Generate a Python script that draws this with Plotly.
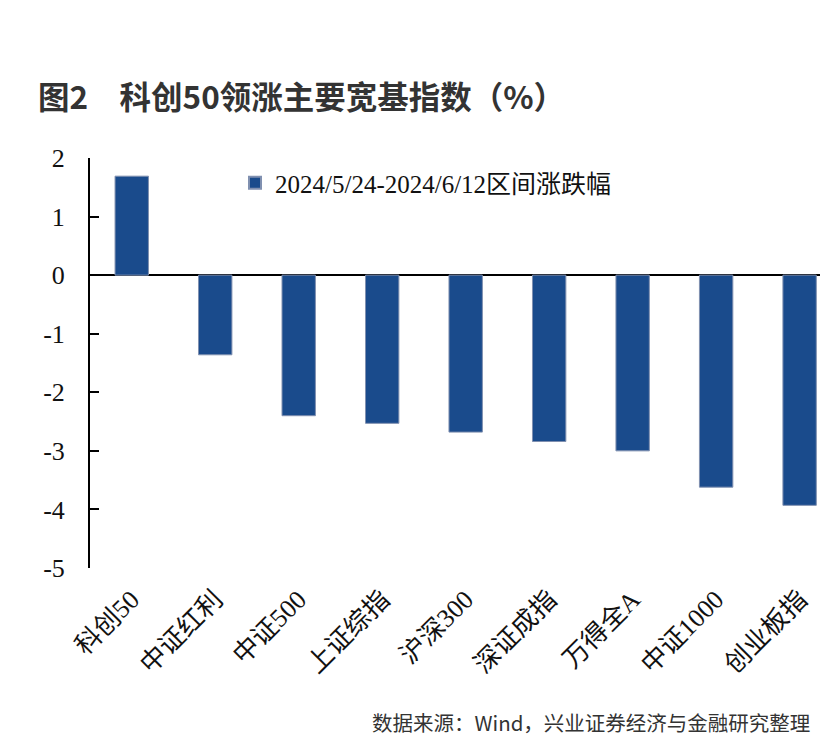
import plotly.graph_objects as go

categories = ["科创50", "中证红利", "中证500", "上证综指", "沪深300", "深证成指", "万得全A", "中证1000", "创业板指"]
values = [1.69, -1.36, -2.40, -2.53, -2.68, -2.84, -3.00, -3.62, -3.93]
series_name = "2024/5/24-2024/6/12区间涨跌幅"
y_tickvals = [2, 1, 0, -1, -2, -3, -4, -5]
y_ticktext = ["2", "1", "0", "-1", "-2", "-3", "-4", "-5"]

BAR = "#1A4B8C"
SERIF = "Liberation Serif, Noto Sans CJK SC, serif"

# page body has an 8px margin; figure is sized/offset to compensate
W, H = 820, 734
L, T, B = 82, 150, 174
PH = H - T - B
PW = W - L

fig = go.Figure()
fig.add_trace(go.Bar(
    x=categories, y=values, name=series_name,
    marker=dict(color=BAR, line=dict(color="#8090B0", width=1)),
    width=0.4, showlegend=True,
))

fig.update_layout(
    width=W, height=H,
    margin=dict(l=L, r=0, t=T, b=B),
    paper_bgcolor="white", plot_bgcolor="white",
    showlegend=True,
    legend=dict(x=(227 - L) / PW, y=(T + PH - 175) / PH, xanchor="left", yanchor="middle",
                font=dict(family=SERIF, size=25, color="#111"),
                bgcolor="rgba(0,0,0,0)", itemsizing="constant"),
    title=dict(text="<b>图2　科创50领涨主要宽基指数（%）</b>",
               x=30 / W, xanchor="left", y=1 - 90 / H, yanchor="middle",
               font=dict(family="Noto Sans CJK SC", size=31.5, color="#333333")),
)
fig.update_xaxes(
    range=[-0.5, 8.34], showline=False, showgrid=False, zeroline=False,
    tickangle=-45, ticks="", ticklabelstandoff=10,
    tickfont=dict(family=SERIF, size=26, color="#111"),
)
fig.update_yaxes(
    range=[-5, 2], tickvals=y_tickvals, ticktext=y_ticktext,
    showline=True, linecolor="black", linewidth=2,
    ticks="inside", ticklen=9, tickwidth=2, tickcolor="black",
    showgrid=False, zeroline=True, zerolinecolor="black", zerolinewidth=2,
    ticklabelstandoff=18,
    tickfont=dict(family=SERIF, size=26, color="#111"),
)
fig.add_annotation(
    text="数据来源：Wind，兴业证券经济与金融研究整理",
    xref="paper", yref="paper", x=(804 - L) / PW, y=-(714 - (T + PH)) / PH,
    xanchor="right", yanchor="middle", showarrow=False,
    font=dict(family="Noto Sans CJK SC", size=20.5, color="#333333"),
)
fig.write_html("out.html")
